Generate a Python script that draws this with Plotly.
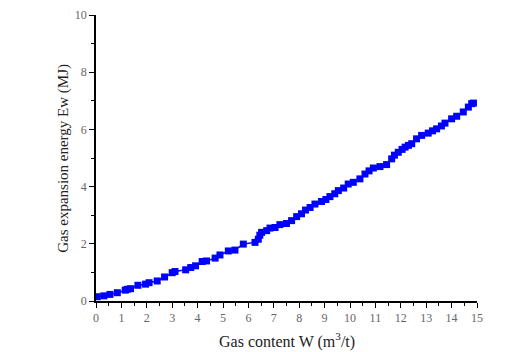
import plotly.graph_objects as go

gas_content = [0.05, 0.31, 0.55, 0.84, 1.15, 1.23, 1.36, 1.65, 1.95, 2.09, 2.41, 2.70,
               3.00, 3.11, 3.53, 3.73, 3.92, 4.18, 4.35, 4.69, 4.88, 5.21, 5.47, 5.80,
               6.26, 6.39, 6.45, 6.52, 6.72, 6.85, 7.05, 7.24, 7.50, 7.70, 7.90, 8.09,
               8.25, 8.43, 8.62, 8.88, 9.05, 9.21, 9.40, 9.54, 9.75, 9.93, 10.13, 10.39,
               10.59, 10.75, 10.92, 11.18, 11.44, 11.64, 11.75, 11.90, 12.05, 12.17, 12.30,
               12.43, 12.62, 12.82, 13.08, 13.25, 13.41, 13.60, 13.74, 14.00, 14.20, 14.46,
               14.66, 14.79, 14.86]
gas_energy = [0.15, 0.18, 0.23, 0.29, 0.38, 0.41, 0.43, 0.55, 0.59, 0.64, 0.70, 0.84,
              0.99, 1.03, 1.09, 1.17, 1.23, 1.38, 1.40, 1.50, 1.61, 1.75, 1.78, 1.99,
              2.05, 2.16, 2.30, 2.40, 2.46, 2.55, 2.57, 2.67, 2.71, 2.81, 2.95, 3.05,
              3.18, 3.27, 3.39, 3.48, 3.55, 3.65, 3.75, 3.86, 3.95, 4.09, 4.15, 4.27,
              4.44, 4.55, 4.65, 4.70, 4.77, 4.97, 5.10, 5.20, 5.30, 5.38, 5.44,
              5.50, 5.67, 5.79, 5.87, 5.95, 6.02, 6.12, 6.22, 6.37, 6.46, 6.61,
              6.78, 6.90, 6.92]

x_title = "Gas content W (m<sup>3</sup>/t)"
y_title = "Gas expansion energy Ew (MJ)"

fig = go.Figure()
fig.add_trace(go.Scatter(
    x=gas_content, y=gas_energy, mode="lines+markers",
    line=dict(color="#0000FF", width=1.5),
    marker=dict(symbol="square", size=7, color="#0000FF"),
    showlegend=False,
))

font_family = "Liberation Serif, DejaVu Serif, serif"
fig.update_layout(
    width=530, height=352,
    margin=dict(l=96, r=53, t=15, b=51),
    paper_bgcolor="white", plot_bgcolor="white",
    font=dict(family=font_family, color="#222"),
)
fig.update_xaxes(
    range=[0, 15], dtick=1, tick0=0, automargin=False,
    showline=True, linecolor="black", linewidth=1.5,
    ticks="outside", ticklen=5, tickwidth=1.2, tickcolor="black",
    minor=dict(dtick=0.5, ticks="outside", ticklen=3, tickwidth=1, tickcolor="black"),
    showgrid=False, zeroline=False,
    tickfont=dict(size=12, color="#666", family=font_family),
)
fig.update_yaxes(
    range=[0, 10], dtick=2, tick0=0, automargin=False,
    showline=True, linecolor="black", linewidth=1.5,
    ticks="outside", ticklen=5, tickwidth=1.2, tickcolor="black",
    minor=dict(dtick=1, ticks="outside", ticklen=3, tickwidth=1, tickcolor="black"),
    showgrid=False, zeroline=False,
    tickfont=dict(size=12, color="#666", family=font_family),
)
fig.add_annotation(text=x_title, xref="paper", yref="paper", x=0.5, y=-0.138,
                   xanchor="center", yanchor="middle", showarrow=False,
                   font=dict(size=16, color="#222", family=font_family))
fig.add_annotation(text=y_title, xref="paper", yref="paper", x=-0.087, y=0.5,
                   xanchor="center", yanchor="middle", showarrow=False, textangle=-90,
                   font=dict(size=15, color="#222", family=font_family))
fig.write_html("out.html")
